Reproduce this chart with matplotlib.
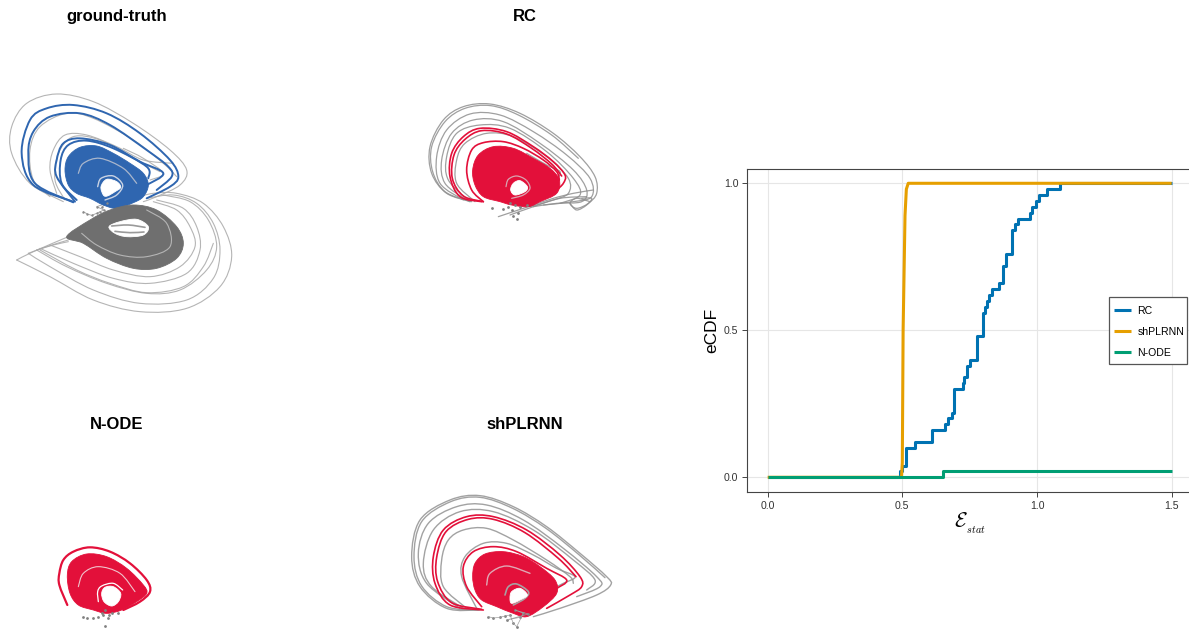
import matplotlib
matplotlib.use("Agg")
import matplotlib.pyplot as plt
import numpy as np
from matplotlib.path import Path
from matplotlib.patches import PathPatch, Rectangle

plt.rcParams["font.family"] = ["Liberation Sans", "DejaVu Sans"]
plt.rcParams["mathtext.fontset"] = "cm"

W, H = 1189, 630

BLUE = "#2f66b0"
RED = "#e3103a"
DARK = "#6f6f6f"
LOOP = "#a8a8a8"

# eCDF curves
rc_x = [0.0, 0.492, 0.500, 0.514, 0.547, 0.612, 0.660, 0.670, 0.683, 0.691, 0.725, 0.728, 0.740, 0.753, 0.778,
        0.800, 0.806, 0.815, 0.822, 0.833, 0.859, 0.874, 0.886, 0.907, 0.917, 0.930, 0.973, 0.983, 0.998, 1.007,
        1.038, 1.085, 1.5]
rc_y = [0.0, 0.02, 0.04, 0.10, 0.12, 0.16, 0.18, 0.20, 0.22, 0.30, 0.32, 0.34, 0.38, 0.40, 0.48,
        0.56, 0.58, 0.60, 0.62, 0.64, 0.66, 0.72, 0.76, 0.84, 0.86, 0.88, 0.90, 0.92, 0.94, 0.96,
        0.98, 1.0, 1.0]
shplrnn_x = [0.0, 0.497, 0.500, 0.503, 0.510, 0.515, 0.522, 1.5]
shplrnn_y = [0.0, 0.0, 0.05, 0.50, 0.89, 0.98, 1.0, 1.0]
node_x = [0.0, 0.646, 0.650, 1.5]
node_y = [0.0, 0.0, 0.02, 0.02]
x_ticks = [0.0, 0.5, 1.0, 1.5]
y_ticks = [0.0, 0.5, 1.0]

# attractor outlines, in 3x panel pixels
gt_blob = [(195, 300), (205, 260), (240, 232), (290, 228), (340, 250), (390, 280), (430, 310), (445, 345),
           (430, 380), (400, 398), (350, 415), (310, 405), (270, 385), (230, 370), (205, 345)]
gt_hole = [(303, 350), (320, 328), (350, 335), (362, 352), (345, 365), (322, 378), (310, 375)]
gt_ring = [(293, 350), (303, 325), (340, 318), (368, 345), (350, 375), (315, 390)]
gt_arc = [(235, 310), (250, 280), (300, 265), (370, 295), (410, 340)]
gt_blue = [
    [(220, 395), (100, 345), (65, 250), (90, 150), (140, 115), (220, 105), (320, 130), (420, 190), (510, 270),
     (535, 320), (510, 350), (440, 385)],
    [(220, 397), (105, 340), (85, 250), (100, 185), (150, 140), (240, 130), (330, 165), (440, 240), (505, 290),
     (515, 320), (470, 360)],
    [(225, 395), (170, 320), (170, 270), (190, 220), (240, 205), (330, 225), (420, 275), (490, 310), (440, 345)],
    [(230, 390), (185, 340), (182, 270), (205, 225), (260, 212), (340, 235), (440, 290), (445, 325)],
]
gt_gray_top = [
    [(190, 395), (90, 340), (35, 250), (35, 170), (80, 100), (170, 72), (280, 95), (400, 160), (510, 240),
     (560, 300), (540, 345), (470, 380), (430, 395)],
    [(150, 380), (100, 330), (90, 240), (120, 170), (200, 130), (280, 145), (400, 210), (490, 280), (530, 320)],
    [(170, 370), (150, 300), (160, 240), (195, 195), (260, 195), (350, 230), (430, 270), (520, 280)],
    [(195, 390), (165, 330), (175, 250), (220, 200), (300, 210), (390, 260), (480, 305)],
    [(370, 235), (430, 265), (490, 310), (450, 330)],
]
gt_lobe = [(200, 500), (270, 450), (330, 420), (400, 405), (470, 420), (530, 470), (550, 520), (530, 565),
           (470, 595), (400, 595), (320, 565), (250, 520)]
gt_lobe_hole = [(327, 470), (360, 455), (410, 448), (445, 470), (430, 495), (380, 500), (345, 490)]
gt_lobe_stripes = [
    [(335, 468), (385, 465), (435, 472)],
    [(345, 484), (390, 488), (432, 486)],
]
gt_lobe_arc = [(245, 490), (290, 525), (360, 555), (440, 560), (510, 530), (500, 460), (440, 420)]
gt_gray_low = [
    [(50, 570), (150, 620), (280, 690), (420, 725), (560, 715), (660, 650), (695, 560), (670, 470), (610, 400),
     (530, 370), (460, 370), (400, 385)],
    [(85, 550), (150, 590), (280, 660), (420, 700), (560, 690), (640, 625), (660, 540), (640, 460), (590, 400),
     (520, 375), (440, 385)],
    [(110, 540), (200, 590), (320, 640), (440, 670), (540, 660), (620, 600), (650, 530), (625, 450), (570, 395),
     (490, 375)],
    [(120, 540), (230, 600), (330, 640), (440, 668), (550, 650), (610, 590), (640, 520)],
    [(120, 535), (220, 580), (340, 625), (450, 640), (560, 610), (600, 540), (590, 470), (550, 415), (470, 390)],
    [(150, 525), (240, 560), (340, 600), (450, 620), (540, 590), (585, 530), (570, 470), (530, 420), (460, 395)],
    [(50, 570), (100, 545), (205, 500)],
    [(85, 550), (140, 530), (205, 510)],
    [(110, 540), (160, 525), (205, 515)],
]
gt_debris_x = [250, 262, 275, 290, 300, 312, 290, 320, 305]
gt_debris_y = [425, 432, 436, 430, 425, 420, 410, 400, 412]

rc_blob = [(218, 240), (235, 195), (280, 170), (340, 175), (400, 205), (450, 235), (478, 270), (470, 310),
           (420, 335), (385, 350), (335, 345), (300, 335), (250, 320), (225, 285)]
rc_hole = [(332, 300), (340, 280), (360, 272), (382, 290), (375, 305), (345, 315)]
rc_ring = [(318, 290), (325, 268), (350, 258), (378, 270), (390, 295), (370, 315), (335, 325)]
rc_red = [
    [(245, 335), (180, 320), (150, 260), (155, 190), (190, 140), (240, 115), (320, 125), (400, 170), (460, 215),
     (495, 255), (490, 280), (470, 300)],
    [(250, 335), (190, 318), (157, 265), (162, 195), (195, 148), (245, 122), (320, 132), (395, 175), (455, 222),
     (485, 258)],
    [(250, 335), (215, 300), (200, 240), (215, 180), (250, 158), (310, 155), (370, 175), (430, 210), (470, 245),
     (478, 270)],
]
rc_gray = [
    [(215, 335), (140, 310), (95, 250), (90, 170), (130, 90), (190, 50), (270, 42), (360, 70), (460, 130),
     (540, 200), (585, 260), (590, 310), (565, 340), (530, 355), (510, 340), (530, 325), (570, 335)],
    [(210, 335), (135, 305), (98, 245), (95, 170), (135, 95), (195, 55), (272, 47), (355, 75), (455, 135),
     (535, 205)],
    [(190, 330), (120, 280), (110, 200), (140, 120), (210, 72), (300, 75), (400, 125), (500, 195), (570, 265),
     (575, 320), (520, 335), (430, 345)],
    [(200, 330), (135, 280), (125, 210), (155, 130), (220, 90), (310, 95), (420, 160), (520, 240), (560, 300),
     (545, 335), (470, 340), (400, 350)],
    [(210, 335), (145, 270), (140, 200), (170, 130), (240, 105), (330, 115), (440, 185), (520, 265), (540, 315),
     (480, 340)],
    [(225, 335), (170, 280), (170, 210), (195, 160), (260, 130), (340, 140), (440, 200), (505, 265), (505, 310),
     (460, 330), (390, 350)],
    [(380, 190), (440, 225), (480, 245), (470, 270)],
    [(295, 380), (340, 365), (400, 345), (460, 325), (520, 310), (580, 300)],
    [(330, 375), (400, 350), (480, 325), (560, 320)],
    [(510, 340), (530, 360), (560, 345), (575, 325), (545, 325)],
]
rc_debris_x = [275, 310, 325, 340, 350, 360, 330, 345, 380, 335, 355]
rc_debris_y = [355, 358, 350, 378, 388, 350, 340, 345, 345, 360, 370]

node_ring = [(112, 225), (88, 165), (88, 130), (100, 90), (130, 65), (180, 52), (240, 65), (300, 100), (350, 150),
             (360, 185), (330, 215), (280, 240)]
node_blob = [(112, 135), (125, 95), (170, 72), (230, 80), (290, 115), (340, 165), (350, 190), (320, 215), (275, 240),
             (230, 250), (190, 240), (145, 225), (120, 190)]
node_hole = [(215, 190), (225, 172), (250, 170), (272, 190), (265, 215), (245, 228), (222, 215)]
node_ring_in = [(205, 215), (203, 185), (215, 168), (250, 160), (278, 180)]
node_arc = [(145, 170), (160, 130), (205, 110), (270, 130), (315, 185)]
node_debris_x = [160, 170, 190, 205, 220, 225, 235, 245, 265, 225, 215, 238]
node_debris_y = [260, 265, 265, 260, 255, 240, 265, 250, 250, 288, 248, 255]

sh_blob = [(218, 290), (225, 250), (255, 222), (310, 215), (370, 230), (420, 260), (465, 300), (470, 340),
           (430, 380), (380, 410), (340, 400), (290, 380), (245, 360), (225, 330)]
sh_hole = [(330, 355), (335, 335), (360, 325), (382, 345), (360, 360), (335, 370)]
sh_ring = [(315, 345), (325, 320), (350, 312), (385, 335), (375, 355), (340, 375)]
sh_arc = [(260, 315), (270, 280), (320, 258), (390, 280)]
sh_red = [
    [(250, 390), (150, 375), (105, 310), (100, 230), (130, 150), (200, 110), (280, 110), (380, 150), (480, 225),
     (540, 290), (545, 320), (510, 345), (440, 385)],
    [(245, 388), (155, 368), (113, 305), (110, 232), (138, 155), (205, 118), (280, 118), (375, 158), (475, 235),
     (528, 290)],
    [(245, 380), (200, 320), (190, 260), (220, 215), (280, 200), (350, 215), (440, 265), (500, 300), (470, 325)],
]
sh_gray = [
    [(240, 390), (140, 385), (60, 320), (35, 230), (60, 120), (150, 60), (240, 47), (340, 80), (440, 140),
     (540, 220), (620, 290), (632, 315), (590, 345), (480, 385), (400, 410)],
    [(235, 390), (140, 380), (65, 318), (42, 230), (65, 125), (152, 65), (240, 52), (338, 85), (438, 145),
     (538, 225), (615, 293)],
    [(180, 385), (80, 310), (55, 220), (85, 130), (170, 80), (260, 75), (370, 120), (490, 205), (590, 290),
     (600, 320), (530, 350)],
    [(190, 385), (95, 320), (70, 250), (100, 150), (180, 95), (280, 95), (400, 150), (520, 240), (585, 300),
     (560, 330)],
    [(200, 385), (130, 320), (125, 240), (145, 180), (190, 150), (260, 145), (340, 180), (440, 240), (510, 290),
     (520, 310)],
    [(230, 385), (185, 290), (195, 230), (250, 190), (320, 190), (400, 225), (470, 265), (525, 290), (490, 310),
     (460, 325)],
]
sh_debris_x = [265, 280, 300, 315, 330, 340, 350, 370, 345, 385, 320, 360]
sh_debris_y = [410, 414, 412, 408, 405, 430, 440, 400, 390, 402, 420, 412]


def bezier(pts, is_closed=False):
    # cubic segments through the traced points
    pts = np.array(pts, dtype=float)
    n = len(pts)
    verts = [pts[0]]
    codes = [Path.MOVETO]
    for i in range(n if is_closed else n - 1):
        if is_closed:
            p0, p1, p2, p3 = pts[(i - 1) % n], pts[i], pts[(i + 1) % n], pts[(i + 2) % n]
        else:
            p0, p1, p2, p3 = pts[max(i - 1, 0)], pts[i], pts[i + 1], pts[min(i + 2, n - 1)]
        verts += [p1 + (p2 - p0) / 6, p2 - (p3 - p1) / 6, p2]
        codes += [Path.CURVE4] * 3
    return Path(verts, codes)


def line(ax, points, color, lw, alpha=1.0, z=2):
    ax.add_patch(PathPatch(bezier(points), fc="none", ec=color, lw=lw, alpha=alpha, zorder=z, capstyle="round"))


def blob(ax, points, color, z=3):
    ax.add_patch(PathPatch(bezier(points, True), fc=color, ec=color, lw=0.6, zorder=z))


def panel(x, y, w, h):
    ax = fig.add_axes([x / W, 1 - (y + h) / H, w / W, h / H])
    ax.set_xlim(0, w * 3)
    ax.set_ylim(h * 3, 0)
    ax.axis("off")
    return ax


fig = plt.figure(figsize=(W / 100, H / 100), dpi=100)

# ground truth
ax1 = panel(0, 70, 250, 260)
for c in gt_gray_top:
    line(ax1, c, LOOP, 0.8, 0.85)
for c in gt_gray_low:
    line(ax1, c, LOOP, 0.8, 0.85)
for c in gt_blue:
    line(ax1, c, BLUE, 1.4)
blob(ax1, gt_blob, BLUE)
blob(ax1, gt_hole, "white", 4)
line(ax1, gt_ring, "#c9d3e4", 1.0, z=4)
line(ax1, gt_arc, "#a9b6cc", 0.9, z=4)
blob(ax1, gt_lobe, DARK)
blob(ax1, gt_lobe_hole, "white", 4)
for c in gt_lobe_stripes:
    line(ax1, c, "#9a9a9a", 1.2, z=5)
line(ax1, gt_lobe_arc, "#b5b5b5", 0.8, z=4)
ax1.scatter(gt_debris_x, gt_debris_y, s=3, color="#8a8a8a", lw=0, zorder=5)
ax1.plot(gt_debris_x, gt_debris_y, color="#a0a0a0", lw=0.6, zorder=2)

# RC
ax2 = panel(400, 90, 220, 150)
for c in rc_gray:
    line(ax2, c, "#8f8f8f", 0.9, 0.85)
for c in rc_red:
    line(ax2, c, RED, 1.2, z=3)
blob(ax2, rc_blob, RED)
line(ax2, rc_ring, "#d9a4b0", 0.9, z=4)
blob(ax2, rc_hole, "white", 4)
ax2.scatter(rc_debris_x, rc_debris_y, s=4, color="#808080", lw=0, zorder=5)

# N-ODE
ax3 = panel(30, 530, 140, 100)
line(ax3, node_ring, RED, 1.6)
blob(ax3, node_blob, RED)
blob(ax3, node_hole, "white", 4)
line(ax3, node_ring_in, "white", 0.9, z=4)
line(ax3, node_arc, "#f0c4cc", 0.8, z=4)
ax3.scatter(node_debris_x, node_debris_y, s=4, color="#808080", lw=0, zorder=5)

# shPLRNN
ax4 = panel(400, 480, 230, 150)
for c in sh_gray:
    line(ax4, c, "#929292", 1.0, 0.85)
for c in sh_red:
    line(ax4, c, RED, 1.2, z=3)
blob(ax4, sh_blob, RED)
line(ax4, sh_ring, "#a8a0a2", 1.2, z=4)
line(ax4, sh_arc, "#e0a8b4", 1.0, z=4)
blob(ax4, sh_hole, "white", 4)
ax4.scatter(sh_debris_x, sh_debris_y, s=4, color="#808080", lw=0, zorder=5)
ax4.plot(sh_debris_x, sh_debris_y, color="#a0a0a0", lw=0.5, zorder=5)

for name, tx, ty in [("ground-truth", 116.5, 21), ("RC", 524.5, 21), ("N-ODE", 116.5, 429), ("shPLRNN", 524.5, 429)]:
    fig.text(tx / W, 1 - ty / H, name, ha="center", va="baseline", fontsize=12, fontweight="bold")

# eCDF plot, runs slightly past the right edge like the original
left, right, top, bottom = 747.3, 1192, 169, 491.7
ax = fig.add_axes([left / W, 1 - bottom / H, (right - left) / W, (bottom - top) / H])
ax.set_xlim(-0.0755, 1.5755)
ax.set_ylim(-0.049, 1.0486)
ax.grid(True, color="#e6e6e6", lw=0.8)
ax.set_axisbelow(True)
ax.step(rc_x, rc_y, where="post", color="#0072B2", lw=2.2, solid_capstyle="butt", label="RC")
ax.plot(shplrnn_x, shplrnn_y, color="#E69F00", lw=2.2, solid_capstyle="butt", label="shPLRNN")
ax.step(node_x, node_y, where="post", color="#009E73", lw=2.2, solid_capstyle="butt", label="N-ODE")
ax.set_xticks(x_ticks)
ax.set_yticks(y_ticks)
ax.tick_params(labelsize=7.6, length=3.5, width=0.7, color="#444444", labelcolor="#333333", pad=3)
for side in ["left", "top", "bottom"]:
    ax.spines[side].set_color("#444444")
    ax.spines[side].set_linewidth(0.8)
ax.spines["right"].set_visible(False)
ax.set_ylabel("eCDF", fontsize=12.5, labelpad=3)
ax.set_xlabel(r"$\mathcal{E}_{_{stat}}$", fontsize=15, labelpad=0)

# legend frame drawn apart, its padding differs between x and y
ax.add_patch(Rectangle((1109 / W, 1 - 364 / H), 77.7 / W, 67.3 / H, transform=fig.transFigure, fc="white",
                       ec="#555555", lw=0.9, zorder=4, clip_on=False))
leg = ax.legend(loc="upper left", bbox_to_anchor=((1114 - left) / (right - left), (bottom - 306) / (bottom - top)),
                borderaxespad=0, borderpad=0, fontsize=7.6, frameon=False,
                handlelength=1.65, handletextpad=0.55, labelspacing=1.05)
leg.set_zorder(5)

fig.savefig("out.png", dpi=100)
